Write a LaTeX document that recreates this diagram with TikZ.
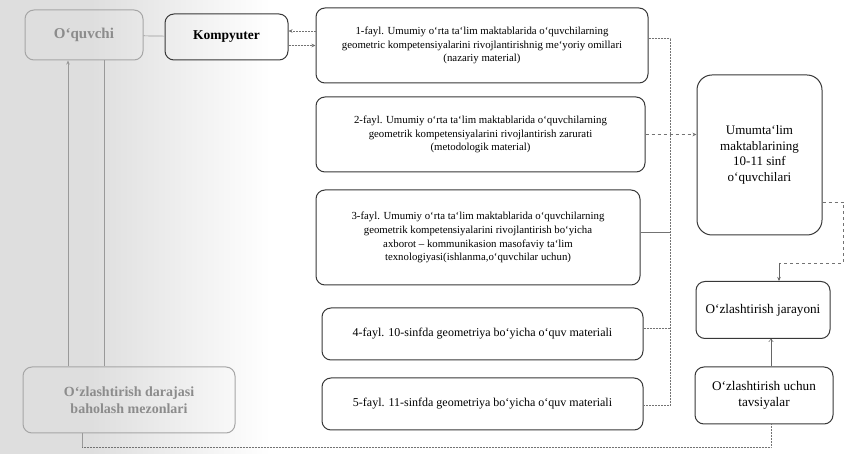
\documentclass[tikz,border=0pt]{standalone}
\usepackage{fontspec}
\setmainfont{Liberation Serif}
\usetikzlibrary{arrows.meta}
\begin{document}
\begin{tikzpicture}[x=1pt,y=-1pt,
  box/.style={draw=black!78, line width=1pt, rounded corners=9pt, align=center,
    inner sep=0pt, font=\fontsize{10.8}{13.8}\selectfont},
  fadedbox/.style={box, draw=black!35, text=black!45, font=\fontsize{15}{17}\selectfont\bfseries},
  link/.style={black!55, line width=0.5pt, densely dotted},
  fadedlink/.style={black!40, line width=0.7pt},
  tip/.style={-{Stealth[length=4pt,width=3.5pt]}},
  opentip/.style={-{To[length=3pt,width=5pt]}}
]
% page and the soft grey band on the left
\useasboundingbox (0,0) rectangle (847,454);
\fill[white] (0,0) rectangle (847,454);
\fill[black!13] (0,0) rectangle (90,454);
\shade[left color=black!13, right color=white] (90,0) rectangle (270,454);

% left column
\node[fadedbox, minimum width=118pt, minimum height=50pt] (oquvchi) at (84,35) {O`quvchi};
\node[fadedbox, minimum width=212pt, minimum height=66pt,
      font=\fontsize{14}{16.5}\selectfont\bfseries] (baho) at (129,400)
      {O`zlashtirish  darajasi\\baholash mezonlari};
\node[box, minimum width=123pt, minimum height=46pt,
      font=\fontsize{13.5}{16}\selectfont\bfseries] (komp) at (226.5,37) {Kompyuter};

% the five files
\node[box, minimum width=332pt, minimum height=75pt] (f1) at (482,45.5)
  {1-fayl. Umumiy  o`rta ta`lim maktablarida  o`quvchilarning\\
   geometric  kompetensiyalarini rivojlantirishnig  me`yoriy omillari\\
   (nazariy  material)};
\node[box, minimum width=329pt, minimum height=75pt] (f2) at (480.5,134.5)
  {2-fayl. Umumiy  o`rta ta`lim maktablarida  o`quvchilarning\\
   geometrik kompetensiyalarini  rivojlantirish  zarurati\\
   (metodologik  material)};
\node[box, minimum width=324pt, minimum height=95pt] (f3) at (478,237.5)
  {3-fayl. Umumiy  o`rta  ta`lim  maktablarida  o`quvchilarning\\
   geometrik  kompetensiyalarini  rivojlantirish  bo`yicha\\
   axborot -- kommunikasion  masofaviy  ta`lim\\
   texnologiyasi(ishlanma,o`quvchilar  uchun)};
\node[box, minimum width=321pt, minimum height=52pt,
      font=\fontsize{12}{14}\selectfont] (f4) at (482.5,334)
  {4-fayl. 10-sinfda geometriya bo`yicha  o`quv materiali};
\node[box, minimum width=321pt, minimum height=52pt,
      font=\fontsize{12}{14}\selectfont] (f5) at (482.5,404)
  {5-fayl. 11-sinfda geometriya bo`yicha  o`quv materiali};

% right column
\node[box, rounded corners=15pt, minimum width=125pt, minimum height=160pt,
      font=\fontsize{13}{15.5}\selectfont] (pupils) at (759.5,155)
  {Umumta`lim\\maktablarining\\10-11  sinf\\o`quvchilari};
\node[box, minimum width=134pt, minimum height=57pt,
      font=\fontsize{13.2}{15}\selectfont] (jar) at (763,310) {O`zlashtirish  jarayoni};
\node[box, minimum width=138pt, minimum height=57pt,
      font=\fontsize{13.2}{16}\selectfont] (tav) at (764,395.5)
  {O`zlashtirish  uchun\\tavsiyalar};

% connectors on the left
\draw[fadedlink, tip] ([xshift=-16pt]oquvchi.south |- baho.north) -- ([xshift=-16pt]oquvchi.south);
\draw[fadedlink] ([xshift=20pt]oquvchi.south |- baho.north) -- ([xshift=20pt]oquvchi.south);
\draw[fadedlink] (oquvchi) -- (komp);

% computer and the first file
\draw[link, tip] (komp.east |- f1.west) -- (f1.west);
\coordinate (kup) at ([yshift=6pt]komp.east);
\draw[link, tip] (kup -| f1.west) -- (kup);

% bus on the right of the files
\coordinate (busT) at (670,38);
\coordinate (busB) at (670,405);
\coordinate (f1e) at ([yshift=7.5pt]f1.east);
\coordinate (f3e) at ([yshift=5pt]f3.east);
\coordinate (f4e) at ([yshift=6pt]f4.east);
\draw[link] (f1e) -- (busT) -- (busB) -- (f5.east |- busB);
\draw[link, tip, dashed] (f2.east) -- (pupils.west |- f2.east);
\draw[black!55, line width=0.5pt] (f3e) -- (busT |- f3e);
\draw[link] (f4e) -- (busT |- f4e);

% pupils to the learning process
\coordinate (r1) at (843,202);
\coordinate (r2) at (843,263);
\coordinate (jin) at ([xshift=16pt]jar.north);
\draw[link, dashed] (pupils.east |- r1) -- (r1) -- (r2) -- (r2 -| jin);
\draw[black!60, line width=0.5pt, tip] (r2 -| jin) -- (jin);

% recommendations to the learning process
\coordinate (tin) at ([xshift=7pt]tav.north);
\coordinate (tout) at ([xshift=7pt]tav.south);
\draw[black!60, line width=0.5pt, opentip] (tin) -- (tin |- jar.south);

% criteria to recommendations
\coordinate (b1) at (82,447);
\draw[fadedlink] (baho.south -| b1) -- (b1);
\draw[link] (b1) -| (tout);
\end{tikzpicture}
\end{document}
